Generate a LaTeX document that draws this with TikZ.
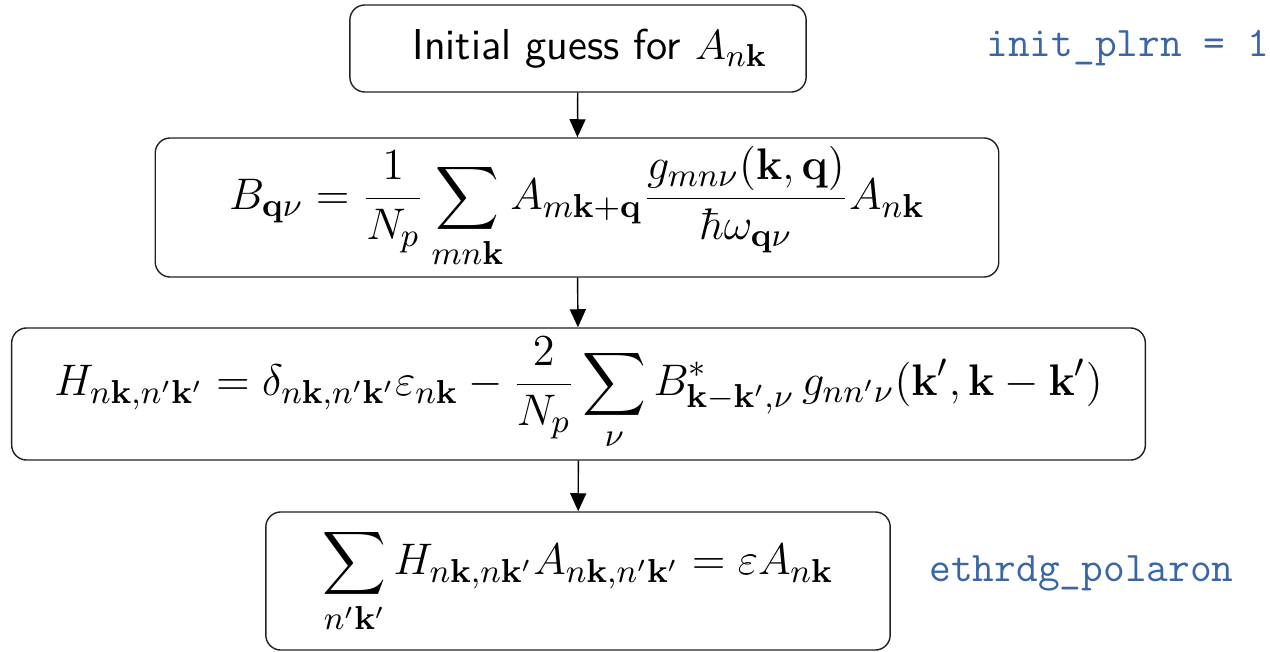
\documentclass[tikz,border=0pt]{standalone}
\usepackage{xcolor}
\usepackage{graphicx}
\usepackage{tikz}
\usepackage{amsmath}
\usetikzlibrary{arrows.meta}
\definecolor{plrnBlue}{HTML}{3A66A8}
\definecolor{plrnDark}{HTML}{222222}
\newcommand{\plrneq}[1]{\scalebox{1.048}{$\displaystyle #1$}}

\begin{document}
\begin{tikzpicture}[
    x=0.01cm, y=-0.01cm,
    box/.style={draw=plrnDark, rounded corners=0.15cm, line width=0.4pt, inner ysep=0pt,
                minimum width=#1, align=center, font=\fontsize{13}{16}\selectfont},
    box/.default=4cm,
    arrow/.style={-{Triangle[width=0.16cm, length=0.18cm]}, line width=0.4pt},
    label/.style={font=\large\ttfamily, text=plrnBlue}
]
    \useasboundingbox (0,0) rectangle (1270,652);

    % --- boxes ---
    \node[box=4.56cm, minimum height=0.87cm, font=\fontsize{12.3}{15}\selectfont] (guess) at (578, 48.5)
        {\hspace{0.24cm}\textsf{Initial guess for} $A_{n\mathbf{k}}$};
    \node[box=8.43cm, minimum height=1.39cm] (bfield) at (577, 207.5)
        {\plrneq{B_{\mathbf{q}\nu} = \frac{1}{N_p}\sum_{mn\mathbf{k}} A_{m\mathbf{k}+\mathbf{q}}
          \frac{g_{mn\nu}(\mathbf{k},\mathbf{q})}{\hbar\omega_{\mathbf{q}\nu}} A_{n\mathbf{k}}}};
    \node[box=11.33cm, minimum height=1.32cm] (hamil) at (578.5, 394)
        {\plrneq{H_{n\mathbf{k},n'\mathbf{k}'} = \delta_{n\mathbf{k},n'\mathbf{k}'}\varepsilon_{n\mathbf{k}}
          - \frac{2}{N_p}\sum_{\nu} B^{*}_{\mathbf{k}-\mathbf{k}',\nu}\, g_{nn'\nu}(\mathbf{k}',\mathbf{k}-\mathbf{k}')}};
    \node[box=6.24cm, minimum height=1.38cm] (eigen) at (578, 581)
        {\plrneq{\sum_{n'\mathbf{k}'} H_{n\mathbf{k},n\mathbf{k}'} A_{n\mathbf{k},n'\mathbf{k}'} = \varepsilon A_{n\mathbf{k}}}};

    % --- input variables ---
    \node[label, anchor=west] (initvar) at (974, 48) {init\_plrn = 1};
    \node[label, anchor=west] (solver) at (917, 573) {ethrdg\_polaron};

    % --- flow ---
    \draw[arrow] (guess) -- (bfield);
    \draw[arrow] (bfield) -- (hamil);
    \draw[arrow] (hamil) -- (eigen);
\end{tikzpicture}
\end{document}
